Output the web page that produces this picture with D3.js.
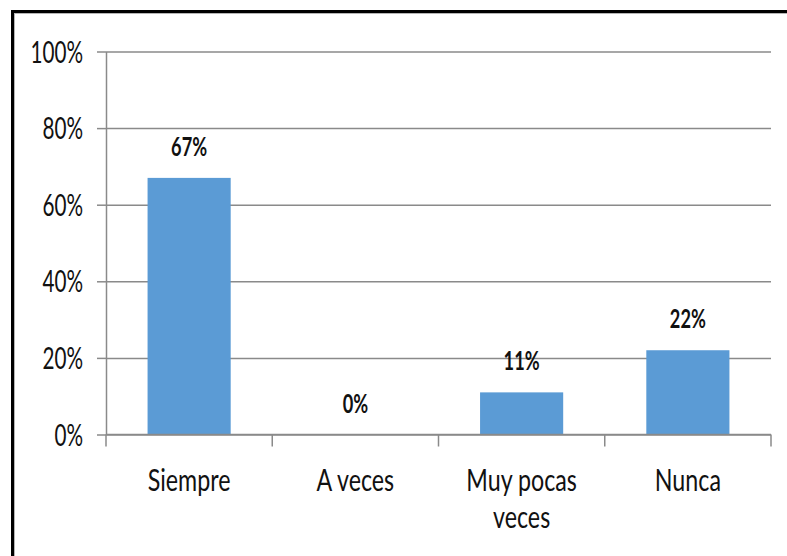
<!DOCTYPE html>
<html>
<head>
<meta charset="utf-8">
<script src="https://cdn.jsdelivr.net/npm/d3@7"></script>
<style>
  html, body { margin: 0; padding: 0; background: #fff; }
  svg { display: block; }
  text { font-family: Lato, "Open Sans", sans-serif; fill: #111; }
</style>
</head>
<body>
<svg id="chart" width="787" height="556"></svg>
<script>
// Survey answers (percent of respondents)
const categories = ["Siempre", "A veces", "Muy pocas veces", "Nunca"];
const values = [67, 0, 11, 22];
const yTicks = [0, 20, 40, 60, 80, 100];

const W = 787, H = 556;
const margin = { top: 51.5, right: 16, bottom: 121.5, left: 106 };
const innerW = W - margin.left - margin.right;
const innerH = H - margin.top - margin.bottom;
const squeeze = 0.7;           // narrow letterforms
const gridColor = "#8a8a8a";
const barColor = "#5b9bd5";

const svg = d3.select("#chart");

// Outer frame (runs off the right and bottom edges)
svg.append("rect")
  .attr("x", 12.5).attr("y", 11.5)
  .attr("width", W + 20).attr("height", H + 20)
  .attr("fill", "#fff").attr("stroke", "#000").attr("stroke-width", 3);
svg.append("rect")
  .attr("x", 14.5).attr("y", 13.5)
  .attr("width", W + 20).attr("height", H + 20)
  .attr("fill", "none").attr("stroke", "#b5b5b5").attr("stroke-width", 1);

const g = svg.append("g").attr("transform", `translate(${margin.left},${margin.top})`);

const x = d3.scaleBand().domain(categories).range([0, innerW]).paddingInner(0.5).paddingOuter(0.25);
const y = d3.scaleLinear().domain([0, 100]).range([innerH, 0]);

// Horizontal gridlines
const grid = g.append("g")
  .call(d3.axisLeft(y).tickValues(yTicks).tickSize(-innerW).tickFormat(""));
grid.select(".domain").remove();
grid.selectAll(".tick line").attr("stroke", gridColor).attr("stroke-width", 1.5);

// Y axis with outward ticks and percent labels
const yAxis = g.append("g")
  .call(d3.axisLeft(y).tickValues(yTicks).tickSize(9).tickSizeOuter(0).tickFormat(d => d + "%"));
yAxis.select(".domain").attr("stroke", gridColor).attr("stroke-width", 1.5);
yAxis.selectAll(".tick line").attr("stroke", gridColor).attr("stroke-width", 1.5);
yAxis.selectAll(".tick text")
  .attr("x", null).attr("dy", null)
  .attr("transform", `translate(-23,10.5) scale(0.69,1)`)
  .attr("text-anchor", "end")
  .attr("font-size", 30)
  .style("font-family", "Lato, sans-serif")
  .attr("fill", "#111");

// Bars
g.selectAll("rect.bar")
  .data(categories)
  .join("rect")
  .attr("class", "bar")
  .attr("x", d => x(d))
  .attr("width", x.bandwidth())
  .attr("y", (d, i) => y(values[i]))
  .attr("height", (d, i) => y(0) - y(values[i]))
  .attr("fill", barColor);

// X axis baseline and category separators
const step = x.step();
const edges = categories.map(d => x(d) - x.bandwidth() / 2).concat([innerW]);
g.append("line")
  .attr("x1", 0).attr("x2", innerW).attr("y1", y(0)).attr("y2", y(0))
  .attr("stroke", gridColor).attr("stroke-width", 1.5);
g.selectAll("line.sep")
  .data(edges)
  .join("line")
  .attr("class", "sep")
  .attr("x1", d => d).attr("x2", d => d)
  .attr("y1", y(0)).attr("y2", y(0) + 12)
  .attr("stroke", gridColor).attr("stroke-width", 1.5);

// Value labels above bars
g.selectAll("text.val")
  .data(categories)
  .join("text")
  .attr("class", "val")
  .attr("transform", (d, i) => `translate(${x(d) + x.bandwidth() / 2},${y(values[i]) - 22}) scale(${squeeze},1)`)
  .attr("text-anchor", "middle")
  .attr("font-size", 26)
  .attr("font-weight", 700)
  .attr("fill", "#000")
  .text((d, i) => values[i] + "%");

// Category labels, wrapped to the slot width
const labelSize = 31;
const labelSqueeze = 0.75;
const lineGap = 38;
categories.forEach(cat => {
  const cx = x(cat) + x.bandwidth() / 2;
  const t = g.append("text")
    .attr("text-anchor", "middle")
    .attr("font-size", labelSize)
    .attr("transform", `translate(${cx},${y(0) + 56}) scale(${labelSqueeze},1)`);
  const words = cat.split(" ");
  let line = [];
  let tspan = t.append("tspan").attr("x", 0).attr("dy", 0);
  words.forEach(w => {
    line.push(w);
    tspan.text(line.join(" "));
    if (tspan.node().getComputedTextLength() * labelSqueeze > step * 0.85 && line.length > 1) {
      line.pop();
      tspan.text(line.join(" "));
      line = [w];
      tspan = t.append("tspan").attr("x", 0).attr("dy", lineGap).text(w);
    }
  });
});
</script>
</body>
</html>
